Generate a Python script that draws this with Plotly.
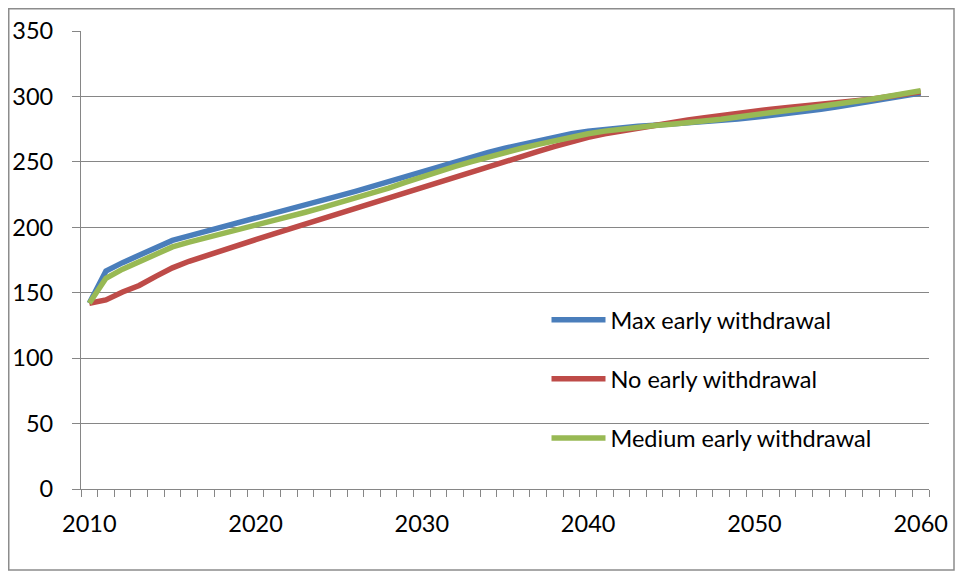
import plotly.graph_objects as go

years = list(range(2010, 2061))

series_names = ["Max early withdrawal", "No early withdrawal", "Medium early withdrawal"]

max_early = [142, 166.5, 173, 178.5, 184.5, 190, 193.5, 196.8, 200, 203.2,
             206.5, 210, 213.5, 217, 220.5, 224, 227.5, 231.2, 235, 239,
             243, 247, 250.5, 254, 257.3, 260.5, 263.5, 266.3, 268.8, 271.5,
             273.5, 275, 276.2, 277.2, 278, 278.8, 279.6, 280.5, 281.5, 282.7,
             284, 285.3, 286.8, 288.4, 290.1, 292, 294, 296.2, 298.4, 300.5,
             302.5]

no_early = [142, 144.5, 150.5, 155.5, 162.5, 169, 174, 178.4, 182.5, 186.5,
            190.5, 194.5, 198.5, 202.5, 206.5, 210.3, 214.2, 218, 222, 226,
            230.5, 234.8, 239, 242.8, 246.5, 250, 254, 258, 261.8, 265.5,
            268.8, 271.5, 273.8, 276, 278, 280, 282, 283.8, 285.6, 287.3,
            289, 290.3, 291.5, 292.6, 293.6, 294.6, 296, 297.8, 299.8, 301.7,
            303.5]

medium_early = [142, 161, 168, 173.3, 179.5, 185, 188.6, 191.8, 194.8, 197.8,
                201, 204.5, 208, 211.5, 215, 218.6, 222.3, 226, 230, 234.3,
                238.7, 242.6, 246.5, 250.2, 253.8, 257.2, 260.4, 263.4, 266.3, 269,
                271.5, 273.5, 275.2, 276.6, 277.8, 278.8, 279.9, 281.1, 282.5, 284.3,
                286.3, 287.8, 289.3, 290.8, 292.4, 294, 295.8, 297.8, 300, 302.2,
                304.3]

x_tick_vals = [2010, 2020, 2030, 2040, 2050, 2060]
x_tick_text = ["2010", "2020", "2030", "2040", "2050", "2060"]
y_tick_vals = [0, 50, 100, 150, 200, 250, 300, 350]

colors = ["#4A7EBB", "#BE4B48", "#98B954"]
values = [max_early, no_early, medium_early]

FONT = "Lato, Carlito, Calibri, sans-serif"
GRID = "#868686"

fig = go.Figure()
for name, vals, col in zip(series_names, values, colors):
    fig.add_trace(go.Scatter(
        x=years, y=vals, mode="lines", name=name, legendgroup=name,
        line=dict(color=col, width=5.5),
    ))

OFF = 8  # the page body margin that shifts the figure
W, H = 963 - 2 * OFF, 579 - 2 * OFF
L = 81 - OFF
T = 31 - OFF
R = W - (929 - OFF)
B = H - (489 - OFF)
pw, ph = W - L - R, H - T - B


def px_x(p):
    return (p - OFF - L) / pw


def px_y(p):
    return ((489 - OFF) - (p - OFF)) / ph


fig.update_layout(
    template="none",
    width=W, height=H,
    margin=dict(l=L, r=R, t=T, b=B, pad=0),
    paper_bgcolor="white", plot_bgcolor="white",
    font=dict(family=FONT, size=23.5, color="black"),
    showlegend=True,
    legend=dict(
        x=px_x(546.5), y=px_y(298), xanchor="left", yanchor="top",
        bgcolor="rgba(0,0,0,0)", borderwidth=0, tracegroupgap=25.5, itemwidth=54,
        font=dict(family=FONT, size=23.5, color="black"),
    ),
    xaxis=dict(
        range=[2009.5, 2060.5], tickmode="array", tickvals=x_tick_vals,
        ticktext=x_tick_text, ticks="", showgrid=False, zeroline=False,
        showline=True, linecolor=GRID, linewidth=1, automargin=False,
        ticklabelstandoff=14,
        minor=dict(ticks="outside", tick0=2009.5, dtick=1, ticklen=7,
                   tickcolor=GRID, tickwidth=1, showgrid=False),
    ),
    yaxis=dict(
        range=[0, 350], tickmode="array", tickvals=y_tick_vals,
        ticks="outside", ticklen=8, tickcolor=GRID, tickwidth=1,
        showgrid=True, gridcolor=GRID, gridwidth=1.2, zeroline=False,
        showline=True, linecolor=GRID, linewidth=1.2, automargin=False,
        ticklabelstandoff=14,
    ),
    shapes=[dict(
        type="rect", xref="paper", yref="paper",
        x0=px_x(OFF + 0.75), x1=px_x(OFF + W - 1),
        y0=px_y(OFF + H - 1), y1=px_y(OFF + 0.75),
        line=dict(color="#8C8C8C", width=1.5), fillcolor="rgba(0,0,0,0)",
        layer="above",
    )],
)

fig.write_html("out.html")
